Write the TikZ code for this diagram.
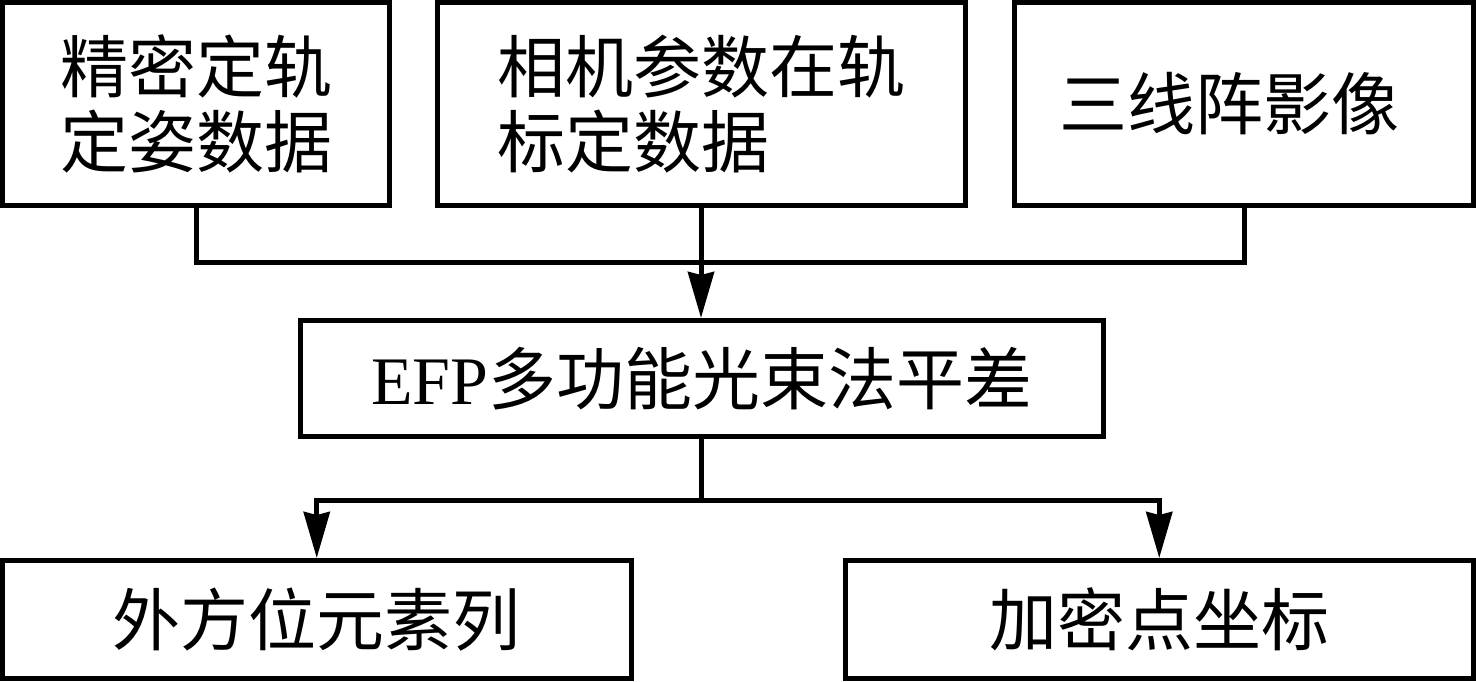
\documentclass[tikz,border=0pt]{standalone}
\usepackage{fontspec}
\setmainfont{Liberation Serif}
\newfontfamily\cjk{Noto Sans CJK SC}
\usetikzlibrary{arrows.meta}
\begin{document}
\begin{tikzpicture}[x=1pt,y=-1pt,
  box/.style={draw, line width=5pt, inner sep=0pt, font=\fontsize{68}{75}\selectfont\cjk},
  link/.style={draw, line width=5pt},
  arr/.style={link, -{Stealth[length=46pt,width=26pt,inset=3pt]}}]
\useasboundingbox (0,0) rectangle (1476,681);
\node[box, minimum width=387pt, minimum height=203pt, align=center] (b1) at (196,104) {精密定轨\\定姿数据};
\node[box, minimum width=528pt, minimum height=203pt, align=left] (b2) at (701,104) {相机参数在轨\\标定数据};
\node[box, minimum width=459pt, minimum height=203pt] (b3) at (1244,104) {三线阵影像\rule{30pt}{0pt}};
\node[box, minimum width=802.5pt, minimum height=116pt] (efp) at (701.75,378.5) {{\rmfamily EFP}多功能光束法平差};
\node[box, minimum width=628.5pt, minimum height=117.5pt] (l) at (316.75,619.25) {外方位元素列};
\node[box, minimum width=628.5pt, minimum height=117.5pt] (r) at (1159.25,619.25) {加密点坐标};
\coordinate (j1) at (196,262.5);
\coordinate (j2) at (701.75,500);
\draw[link] (b1.south) -- (j1) -| (b3.south);
\draw[arr] (b2.south) -- (b2.south |- efp.north);
\draw[link] (efp.south) -- (j2);
\draw[arr] (j2) -| (l.north);
\draw[arr] (j2) -| (r.north);
\end{tikzpicture}
\end{document}
